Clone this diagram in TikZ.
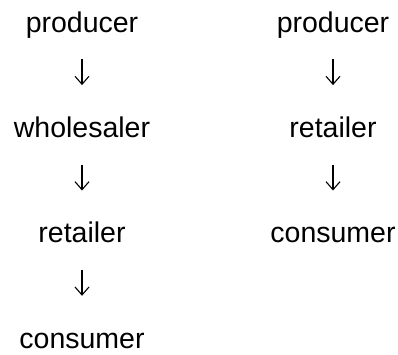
\documentclass[tikz,border=0pt]{standalone}
\usepackage{fontspec}
\setmainfont{Liberation Sans}
\usetikzlibrary{arrows.meta}
\tikzset{
  stage/.style={inner sep=0pt, anchor=base, text height=21pt, text depth=7pt,
    font=\fontsize{28.5pt}{34pt}\selectfont},
  flow/.style={line width=1.1pt, -{Straight Barb[length=8pt, width=14pt, line width=1.1pt]},
    shorten <=20pt, shorten >=31pt}
}

\begin{document}
\begin{tikzpicture}
\useasboundingbox (0,0) rectangle (398pt,-354pt);

% long chain
\node[stage] (prodA) at (82pt,-32pt) {producer};
\node[stage] (wholeA) at (82pt,-137.3pt) {wholesaler};
\node[stage] (retA) at (82pt,-242.7pt) {retailer};
\node[stage] (consA) at (82pt,-348pt) {consumer};

% short chain
\node[stage] (prodB) at (333pt,-32pt) {producer};
\node[stage] (retB) at (333pt,-137.3pt) {retailer};
\node[stage] (consB) at (333pt,-242.7pt) {consumer};

\draw[flow] (prodA) -- (wholeA);
\draw[flow] (wholeA) -- (retA);
\draw[flow] (retA) -- (consA);
\draw[flow] (prodB) -- (retB);
\draw[flow] (retB) -- (consB);
\end{tikzpicture}
\end{document}
